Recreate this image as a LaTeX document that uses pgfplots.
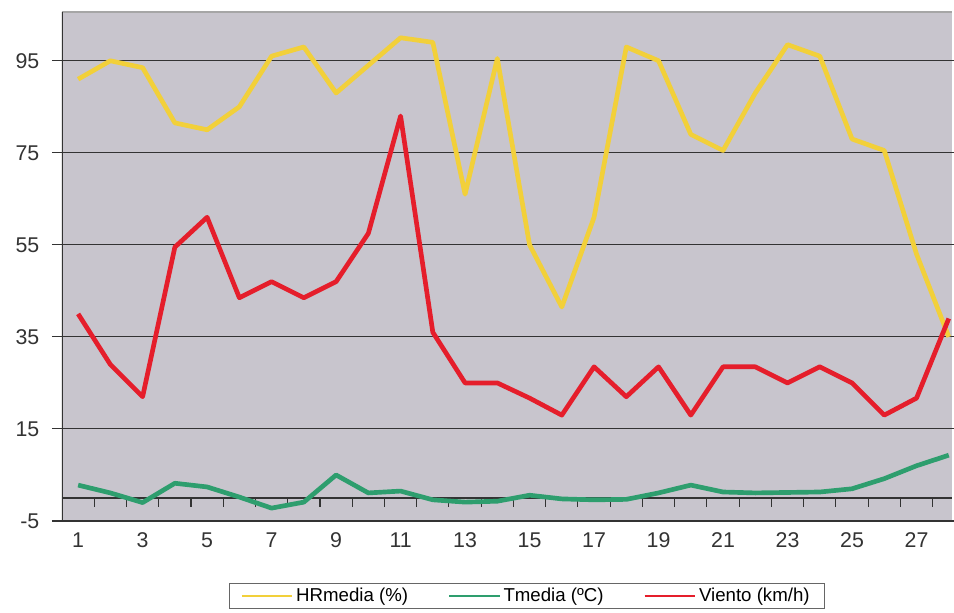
\documentclass[border=0pt]{standalone}
\usepackage{fontspec}
\setmainfont{Liberation Sans}
\usepackage{pgfplots}
\pgfplotsset{compat=1.18}
\usepackage{pgfplotstable}

\definecolor{bgplot}{RGB}{200,197,205}
\definecolor{hrcol}{RGB}{242,208,58}
\definecolor{tcol}{RGB}{46,158,110}
\definecolor{vcol}{RGB}{229,30,43}

% dia HR T viento
\pgfplotstableread{
d  hr    t     v
1  91    2.8   40
2  95    1.1   29
3  93.5  -1    22
4  81.5  3.2   54.5
5  80    2.4   61
6  85    0.2   43.5
7  96    -2.2  47
8  98    -0.9  43.5
9  88    5     47
10 94    1.1   57.5
11 100   1.5   83
12 99    -0.4  36
13 66    -0.9  25
14 95.5  -0.7  25
15 55    0.6   21.7
16 41.5  -0.2  18
17 61    -0.4  28.5
18 98    -0.3  22
19 95    1.1   28.5
20 79    2.8   18
21 75.5  1.3   28.5
22 88    1.1   28.5
23 98.5  1.2   25
24 96    1.3   28.5
25 78    2.0   25
26 75.5  4.2   18
27 53    7     21.7
28 35    9.3   39
}\datos

\begin{document}
\begin{tikzpicture}
\begin{axis}[
    scale only axis,
    width=667.5pt, height=381.75pt,
    xmin=0.5, xmax=28.1,
    ymin=-5, ymax=105.6,
    axis background/.style={fill=bgplot},
    xtick={1,3,...,27},
    ytick={-5,15,35,55,75,95},
    ymajorgrids,
    grid style={black!80, line width=0.8pt},
    axis line style={draw=none},
    x tick style={draw=none},
    y tick style={black!80, line width=0.8pt},
    tick align=outside, major tick length=7.5pt,
    tick label style={font=\fontsize{16}{18}\selectfont, text=black!80},
    yticklabel style={xshift=-6pt},
    xticklabel style={yshift=2pt},
    /pgf/number format/assume math mode=true,
    legend columns=3,
    legend style={at={(0.522,-0.1218)}, anchor=north, draw=black!60,
        font=\fontsize{14}{15}\selectfont, inner xsep=9pt, inner ysep=1.5pt,
        /tikz/every odd column/.append style={column sep=0pt},
        /tikz/every even column/.append style={column sep=28pt}},
    legend image code/.code={\draw[#1, line width=1.5pt] (0pt,0pt) -- (38pt,0pt);},
]
% marco
\draw[black!35, line width=1pt] (rel axis cs:0,1) -- (rel axis cs:1,1);
\draw[black!80, line width=1pt] (rel axis cs:0,0) -- (rel axis cs:0,1);
\draw[black!80, line width=0.8pt] (axis cs:0.5,0) -- (axis cs:28.1,0);
\pgfplotsinvokeforeach{1,...,27}{
  \draw[black!80, line width=0.8pt] (axis cs:#1.5,0) -- ++(0pt,-6.5pt);
}
\addplot[hrcol, line width=3.5pt, line join=round] table[x=d, y=hr] {\datos};
\addlegendentry{HRmedia (\%)}
\addplot[tcol, line width=3.5pt, line join=round] table[x=d, y=t] {\datos};
\addlegendentry{Tmedia (ºC)}
\addplot[vcol, line width=3.5pt, line join=round] table[x=d, y=v] {\datos};
\addlegendentry{Viento (km/h)}
\end{axis}
\pgfresetboundingbox
\useasboundingbox (-46.5pt,-69pt) rectangle (669pt,390.75pt);
\end{tikzpicture}
\end{document}
